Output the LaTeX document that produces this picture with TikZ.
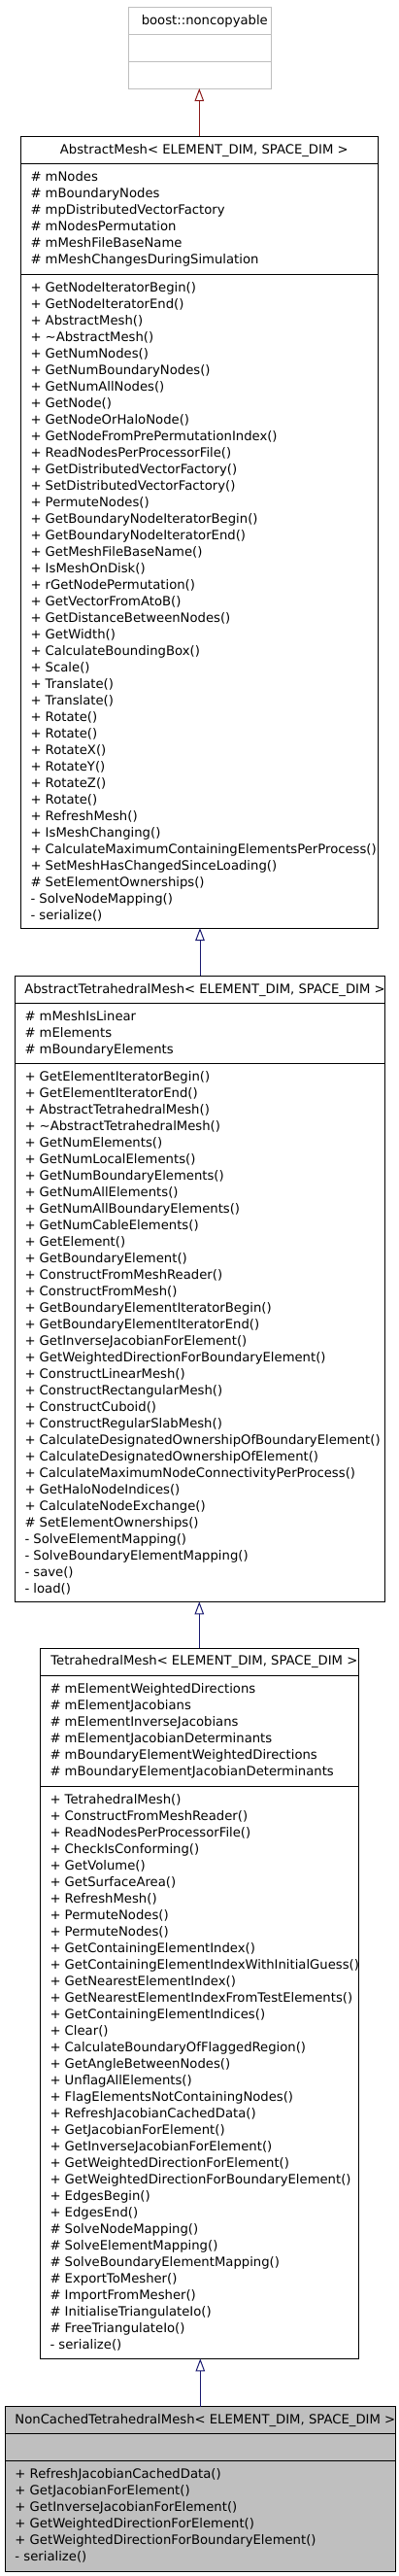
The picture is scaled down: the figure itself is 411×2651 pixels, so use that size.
\documentclass[tikz,border=0pt]{standalone}
\usepackage{fontspec}
\setmainfont{DejaVu Sans}
\usetikzlibrary{arrows.meta,positioning}
\definecolor{EdgeBlue}{HTML}{191970}
\definecolor{EdgeRed}{HTML}{8B1A1A}
\definecolor{ClassGray}{HTML}{BFBFBF}
\tikzset{
  classbox/.style={draw=black, line width=1pt, fill=white, inner sep=0pt, outer sep=0pt, anchor=north west},
  classtitle/.style={anchor=base, inner sep=0pt, font=\fontsize{13.2}{17}\selectfont},
  members/.style={anchor=north west, inner sep=0pt, align=left, font=\fontsize{13.2}{17}\selectfont},
  divider/.style={line width=1pt},
  inherit/.style={-{Triangle[open, length=13pt, width=9.5pt]}, line width=1pt, EdgeBlue},
}
\begin{document}
\begin{tikzpicture}[x=1pt, y=-1pt]
  \useasboundingbox (0,0) rectangle (411,2651);

  % boost::noncopyable
  \node[classbox, draw=ClassGray, minimum width=147pt, minimum height=83.7pt] (noncopyable) at (132.3,7.3) {};
  \draw[divider, ClassGray] ([yshift=-28.4pt]noncopyable.north west) -- ([yshift=-28.4pt]noncopyable.north east);
  \draw[divider, ClassGray] ([yshift=-56pt]noncopyable.north west) -- ([yshift=-56pt]noncopyable.north east);
  \node[classtitle] (noncopyabletitle) at ([xshift=5pt, yshift=-17.8pt]noncopyable.north) {boost::noncopyable};

  % AbstractMesh
  \node[classbox, minimum width=368pt, minimum height=814.7pt] (abstractmesh) at (21.3,140.3) {};
  \draw[divider] ([yshift=-28pt]abstractmesh.north west) -- ([yshift=-28pt]abstractmesh.north east);
  \draw[divider] ([yshift=-142pt]abstractmesh.north west) -- ([yshift=-142pt]abstractmesh.north east);
  \node[classtitle] (abstractmeshtitle) at ([xshift=5pt, yshift=-17.8pt]abstractmesh.north) {AbstractMesh< ELEMENT\_DIM, SPACE\_DIM >};
  \node[members] (abstractmeshattrs) at ([xshift=10pt, yshift=-34.1pt]abstractmesh.north west) {\strut\# mNodes\\
    \# mBoundaryNodes\\
    \# mpDistributedVectorFactory\\
    \# mNodesPermutation\\
    \# mMeshFileBaseName\\
    \# mMeshChangesDuringSimulation};
  \node[members] (abstractmeshops) at ([xshift=10pt, yshift=-148.1pt]abstractmesh.north west) {\strut+ GetNodeIteratorBegin()\\
    + GetNodeIteratorEnd()\\
    + AbstractMesh()\\
    + \textasciitilde AbstractMesh()\\
    + GetNumNodes()\\
    + GetNumBoundaryNodes()\\
    + GetNumAllNodes()\\
    + GetNode()\\
    + GetNodeOrHaloNode()\\
    + GetNodeFromPrePermutationIndex()\\
    + ReadNodesPerProcessorFile()\\
    + GetDistributedVectorFactory()\\
    + SetDistributedVectorFactory()\\
    + PermuteNodes()\\
    + GetBoundaryNodeIteratorBegin()\\
    + GetBoundaryNodeIteratorEnd()\\
    + GetMeshFileBaseName()\\
    + IsMeshOnDisk()\\
    + rGetNodePermutation()\\
    + GetVectorFromAtoB()\\
    + GetDistanceBetweenNodes()\\
    + GetWidth()\\
    + CalculateBoundingBox()\\
    + Scale()\\
    + Translate()\\
    + Translate()\\
    + Rotate()\\
    + Rotate()\\
    + RotateX()\\
    + RotateY()\\
    + RotateZ()\\
    + Rotate()\\
    + RefreshMesh()\\
    + IsMeshChanging()\\
    + CalculateMaximumContainingElementsPerProcess()\\
    + SetMeshHasChangedSinceLoading()\\
    \# SetElementOwnerships()\\
    - SolveNodeMapping()\\
    - serialize()};

  % AbstractTetrahedralMesh
  \node[classbox, minimum width=381.4pt, minimum height=644pt] (abstracttet) at (15.3,1004.3) {};
  \draw[divider] ([yshift=-28pt]abstracttet.north west) -- ([yshift=-28pt]abstracttet.north east);
  \draw[divider] ([yshift=-90pt]abstracttet.north west) -- ([yshift=-90pt]abstracttet.north east);
  \node[classtitle] (abstracttettitle) at ([xshift=5pt, yshift=-17.8pt]abstracttet.north) {AbstractTetrahedralMesh< ELEMENT\_DIM, SPACE\_DIM >};
  \node[members] (abstracttetattrs) at ([xshift=10pt, yshift=-34.1pt]abstracttet.north west) {\strut\# mMeshIsLinear\\
    \# mElements\\
    \# mBoundaryElements};
  \node[members] (abstracttetops) at ([xshift=10pt, yshift=-96.1pt]abstracttet.north west) {\strut+ GetElementIteratorBegin()\\
    + GetElementIteratorEnd()\\
    + AbstractTetrahedralMesh()\\
    + \textasciitilde AbstractTetrahedralMesh()\\
    + GetNumElements()\\
    + GetNumLocalElements()\\
    + GetNumBoundaryElements()\\
    + GetNumAllElements()\\
    + GetNumAllBoundaryElements()\\
    + GetNumCableElements()\\
    + GetElement()\\
    + GetBoundaryElement()\\
    + ConstructFromMeshReader()\\
    + ConstructFromMesh()\\
    + GetBoundaryElementIteratorBegin()\\
    + GetBoundaryElementIteratorEnd()\\
    + GetInverseJacobianForElement()\\
    + GetWeightedDirectionForBoundaryElement()\\
    + ConstructLinearMesh()\\
    + ConstructRectangularMesh()\\
    + ConstructCuboid()\\
    + ConstructRegularSlabMesh()\\
    + CalculateDesignatedOwnershipOfBoundaryElement()\\
    + CalculateDesignatedOwnershipOfElement()\\
    + CalculateMaximumNodeConnectivityPerProcess()\\
    + GetHaloNodeIndices()\\
    + CalculateNodeExchange()\\
    \# SetElementOwnerships()\\
    - SolveElementMapping()\\
    - SolveBoundaryElementMapping()\\
    - save()\\
    - load()};

  % TetrahedralMesh
  \node[classbox, minimum width=328pt, minimum height=731.3pt] (tetmesh) at (41.3,1696) {};
  \draw[divider] ([yshift=-28pt]tetmesh.north west) -- ([yshift=-28pt]tetmesh.north east);
  \draw[divider] ([yshift=-142.7pt]tetmesh.north west) -- ([yshift=-142.7pt]tetmesh.north east);
  \node[classtitle] (tetmeshtitle) at ([xshift=5pt, yshift=-17.8pt]tetmesh.north) {TetrahedralMesh< ELEMENT\_DIM, SPACE\_DIM >};
  \node[members] (tetmeshattrs) at ([xshift=10pt, yshift=-34.1pt]tetmesh.north west) {\strut\# mElementWeightedDirections\\
    \# mElementJacobians\\
    \# mElementInverseJacobians\\
    \# mElementJacobianDeterminants\\
    \# mBoundaryElementWeightedDirections\\
    \# mBoundaryElementJacobianDeterminants};
  \node[members] (tetmeshops) at ([xshift=10pt, yshift=-148.8pt]tetmesh.north west) {\strut+ TetrahedralMesh()\\
    + ConstructFromMeshReader()\\
    + ReadNodesPerProcessorFile()\\
    + CheckIsConforming()\\
    + GetVolume()\\
    + GetSurfaceArea()\\
    + RefreshMesh()\\
    + PermuteNodes()\\
    + PermuteNodes()\\
    + GetContainingElementIndex()\\
    + GetContainingElementIndexWithInitialGuess()\\
    + GetNearestElementIndex()\\
    + GetNearestElementIndexFromTestElements()\\
    + GetContainingElementIndices()\\
    + Clear()\\
    + CalculateBoundaryOfFlaggedRegion()\\
    + GetAngleBetweenNodes()\\
    + UnflagAllElements()\\
    + FlagElementsNotContainingNodes()\\
    + RefreshJacobianCachedData()\\
    + GetJacobianForElement()\\
    + GetInverseJacobianForElement()\\
    + GetWeightedDirectionForElement()\\
    + GetWeightedDirectionForBoundaryElement()\\
    + EdgesBegin()\\
    + EdgesEnd()\\
    \# SolveNodeMapping()\\
    \# SolveElementMapping()\\
    \# SolveBoundaryElementMapping()\\
    \# ExportToMesher()\\
    \# ImportFromMesher()\\
    \# InitialiseTriangulateIo()\\
    \# FreeTriangulateIo()\\
    - serialize()};

  % NonCachedTetrahedralMesh
  \node[classbox, fill=ClassGray, minimum width=402pt, minimum height=169.3pt] (noncached) at (5.3,2476.7) {};
  \draw[divider] ([yshift=-27.6pt]noncached.north west) -- ([yshift=-27.6pt]noncached.north east);
  \draw[divider] ([yshift=-55.6pt]noncached.north west) -- ([yshift=-55.6pt]noncached.north east);
  \node[classtitle] (noncachedtitle) at ([xshift=5pt, yshift=-17.8pt]noncached.north) {NonCachedTetrahedralMesh< ELEMENT\_DIM, SPACE\_DIM >};
  \node[members] (noncachedops) at ([xshift=10pt, yshift=-61.7pt]noncached.north west) {\strut+ RefreshJacobianCachedData()\\
    + GetJacobianForElement()\\
    + GetInverseJacobianForElement()\\
    + GetWeightedDirectionForElement()\\
    + GetWeightedDirectionForBoundaryElement()\\
    - serialize()};

  % inheritance
  \draw[inherit, EdgeRed] (abstractmesh.north) -- (abstractmesh.north |- noncopyable.south);
  \draw[inherit] (abstracttet.north) -- (abstracttet.north |- abstractmesh.south);
  \draw[inherit] (tetmesh.north) -- (tetmesh.north |- abstracttet.south);
  \draw[inherit] (noncached.north) -- (noncached.north |- tetmesh.south);
\end{tikzpicture}
\end{document}
